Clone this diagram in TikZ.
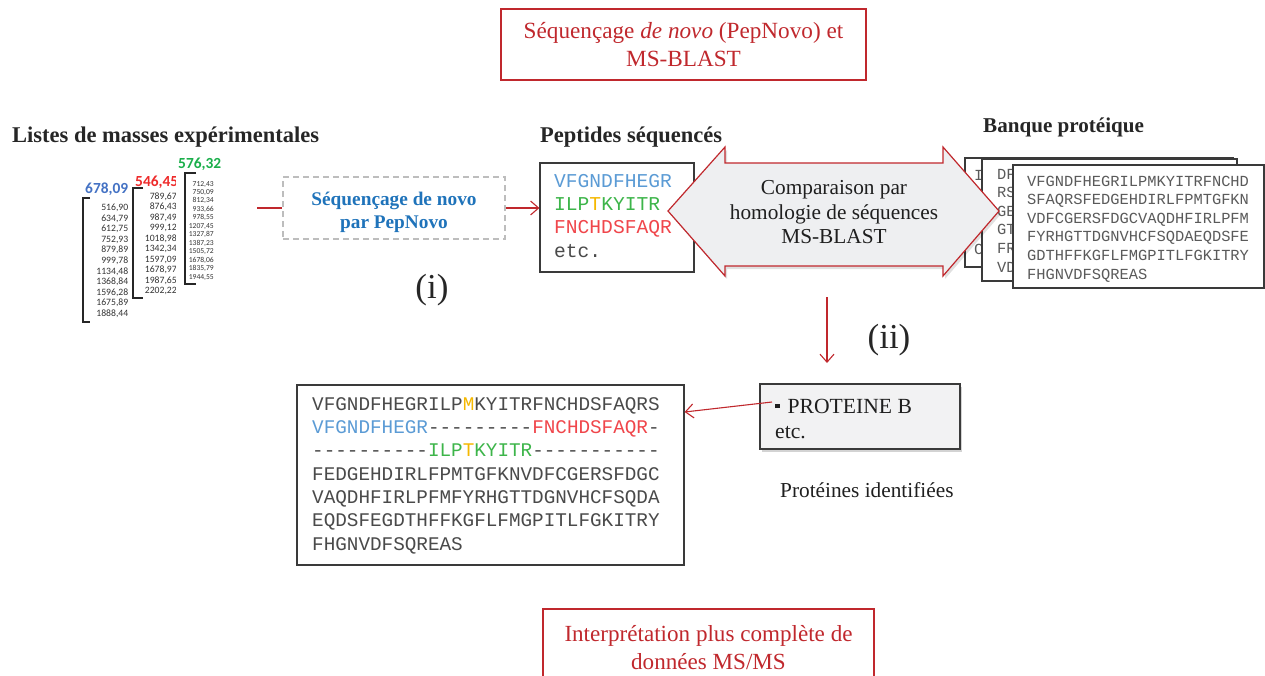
\documentclass[tikz,border=0pt]{standalone}
\usepackage{fontspec}
\setmainfont{Liberation Serif}
\newfontfamily\calfont{Carlito}
\newfontfamily\monofont{Liberation Mono}
\usetikzlibrary{arrows.meta,shadows}
\definecolor{dred}{HTML}{C0282D}
\definecolor{boxgray}{HTML}{3A3A3A}
\definecolor{seqgray}{HTML}{4A4A4A}
\definecolor{cardgray}{HTML}{5A5A5A}
\definecolor{pblue}{HTML}{5B9BD5}
\definecolor{pgreen}{HTML}{3DB54A}
\definecolor{pyel}{HTML}{F5B800}
\definecolor{pred}{HTML}{F0464B}
\definecolor{hblue}{HTML}{4472C4}
\definecolor{hred}{HTML}{EE2B2B}
\definecolor{hgreen}{HTML}{1BAF4B}
\definecolor{dblue}{HTML}{1F73BA}
\definecolor{arrowfill}{HTML}{EEEFF1}
\definecolor{protfill}{HTML}{F2F2F3}
\definecolor{dashgray}{HTML}{BDBDBD}
\begin{document}
\begin{tikzpicture}[x=1pt,y=-1pt,
  redbox/.style={draw=dred, line width=1.1pt, inner sep=0pt, text=dred, align=center},
  redline/.style={draw=dred, line width=1.1pt},
  redarrow/.style={redline, -{Straight Barb[length=8pt,width=14pt,line width=1.1pt]}},
  blackbox/.style={draw=boxgray, line width=1.2pt, fill=white, inner sep=0pt},
  header/.style={font=\fontsize{22.5}{27}\selectfont\bfseries, text=black!85, inner sep=0pt, anchor=base west},
  masslist/.style={font=\calfont\fontsize{9.7}{10.6}\selectfont, text=black!80, align=right, inner sep=0pt, anchor=base east},
  massbig/.style={font=\calfont\bfseries\fontsize{15.4}{18}\selectfont, inner sep=0pt, anchor=base west},
  bracket/.style={draw=black!85, line width=1.3pt},
  seqtext/.style={font=\monofont\fontsize{19.3}{23.3}\selectfont, text=seqgray, align=left, inner sep=0pt, anchor=base west},
  cardtext/.style={font=\monofont\fontsize{15.4}{18.6}\selectfont, text=cardgray, align=left, inner sep=0pt, anchor=base west},
  roman/.style={font=\fontsize{35}{40}\selectfont, text=black!85, inner sep=0pt}
]
\useasboundingbox (0,0) rectangle (1265,675);

% top and bottom boxes
\node[redbox, minimum width=365pt, minimum height=71pt, font=\fontsize{23.2}{28}\selectfont] (topbox) at (683.5,44.5)
  {Séquençage \textit{de novo} (PepNovo) et\\MS-BLAST};
\node[redbox, minimum width=331pt, minimum height=77pt, font=\fontsize{23.1}{28}\selectfont] (botbox) at (708.5,647.5)
  {Interprétation plus complète de\\données MS/MS};

% headers
\node[header] (hlist) at (12,142) {Listes de masses expérimentales};
\node[header] (hpep) at (540,142) {Peptides séquencés};
\node[header, font=\fontsize{21.1}{25}\selectfont\bfseries] (hbank) at (983,132) {Banque protéique};

% mass lists (base anchor = last line baseline)
\node[massbig, text=hblue] (m1) at (85,193) {678,09};
\node[masslist] (l1) at (128.5,316.5) {516,90\\634,79\\612,75\\752,93\\879,89\\999,78\\1134,48\\1368,84\\1596,28\\1675,89\\1888,44};
\draw[bracket] (90,198) -- (83,198) -- (83,322) -- (90,322);
\begin{scope}
  \clip (125,160) rectangle (175.5,305);
  \node[massbig, text=hred] (m2) at (135,186) {546,45};
  \node[masslist, font=\calfont\fontsize{9.7}{10.45}\selectfont] (l2) at (177,293.5) {789,67\\876,43\\987,49\\999,12\\1018,98\\1342,34\\1597,09\\1678,97\\1987,65\\2202,22};
\end{scope}
\draw[bracket] (143,188) -- (133,188) -- (133,298) -- (143,298);
\node[massbig, text=hgreen] (m3) at (178,168) {576,32};
\node[masslist, font=\calfont\fontsize{7.6}{8.45}\selectfont] (l3) at (214,279) {712,43\\750,09\\812,34\\933,66\\978,55\\1207,45\\1327,87\\1387,23\\1505,72\\1678,06\\1835,79\\1944,55};
\draw[bracket] (196,173) -- (185,173) -- (185,284) -- (196,284);

% dashed box
\node[draw=dashgray, line width=1.5pt, dash pattern=on 6pt off 4pt, minimum width=222pt, minimum height=62pt, inner sep=0pt] (dbox) at (394,208) {};
\node[font=\fontsize{19.3}{23}\selectfont\bfseries, text=dblue, align=center, inner sep=0pt] (dtext) at (394,212) {Séquençage de novo\\par PepNovo};
\coordinate (lstart) at (257,208);
\draw[redline] (lstart) -- (dbox.west);
\node[blackbox, minimum width=154pt, minimum height=109pt] (pep) at (617,217.5) {};
\draw[redarrow] (dbox.east) -- (dbox.east -| pep.west);
\node[seqtext, font=\monofont\fontsize{19.6}{23.3}\selectfont] (peptxt) at (554,257)
  {\textcolor{pblue}{VFGNDFHEGR}\\\textcolor{pgreen}{ILP}\textcolor{pyel}{T}\textcolor{pgreen}{KYITR}\\\textcolor{pred}{FNCHDSFAQR}\\etc.};

\node[roman] (ri) at (432,290) {(i)};

% protein bank cards (back ones)
\node[blackbox, minimum width=268pt, minimum height=109pt] (card1) at (1099,212.5) {};
\node[cardtext] (c1txt) at (974,273) {I\\\\\\\\C\\};
\node[blackbox, minimum width=255pt, minimum height=122pt] (card2) at (1109.5,220) {};
\node[cardtext] (c2txt) at (997,272) {DF\\RS\\GE\\GT\\FR\\VD};

% double arrow
\fill[black, opacity=0.12] (670,214) -- (727,150) -- (727,166) -- (945,166) -- (945,150) -- (1001,214) -- (945,279) -- (945,269) -- (727,269) -- (727,279) -- cycle;
\draw[draw=dred, line width=1.2pt, fill=arrowfill, line join=miter] (668,211) -- (725,147) -- (725,163) -- (943,163) -- (943,147) -- (999,211) -- (943,276) -- (943,266) -- (725,266) -- (725,276) -- cycle;
\node[font=\fontsize{21.3}{24.5}\selectfont, text=black!88, align=center, inner sep=0pt] (cmp) at (834,212.5) {Comparaison par\\homologie de séquences\\MS-BLAST};

% front card
\node[blackbox, minimum width=251pt, minimum height=123pt] (card3) at (1138.5,226.5) {};
\node[cardtext] (c3txt) at (1027,279) {VFGNDFHEGRILPMKYITRFNCHD\\SFAQRSFEDGEHDIRLFPMTGFKN\\VDFCGERSFDGCVAQDHFIRLPFM\\FYRHGTTDGNVHCFSQDAEQDSFE\\GDTHFFKGFLFMGPITLFGKITRY\\FHGNVDFSQREAS};

% down arrow and (ii)
\coordinate (dstart) at (827,297);
\coordinate (dend) at (827,363);
\draw[redarrow] (dstart) -- (dend);
\node[roman] (rii) at (889,340) {(ii)};

% protein box
\node[draw=boxgray, line width=1.2pt, fill=protfill, minimum width=200pt, minimum height=65pt, inner sep=0pt,
  drop shadow={shadow xshift=1.5pt, shadow yshift=-2.5pt, opacity=0.35}] (prot) at (860,416.5) {};
\node[font=\fontsize{21.6}{25}\selectfont, text=black!88, align=left, inner sep=0pt, anchor=base west] (prottxt) at (775,438)
  {\rule[5pt]{4.5pt}{4.5pt}\hspace{8pt}PROTEINE B\\etc.};
\node[font=\fontsize{21.3}{25}\selectfont, text=black!88, inner sep=0pt, anchor=base west] (protlab) at (780,497) {Protéines identifiées};

% alignment box
\node[blackbox, minimum width=387pt, minimum height=180pt] (align) at (490.5,475) {};
\node[seqtext] (aligntxt) at (312,550)
  {VFGNDFHEGRILP\textcolor{pyel}{M}KYITRFNCHDSFAQRS\\
   \textcolor{pblue}{VFGNDFHEGR}---------\textcolor{pred}{FNCHDSFAQR}-\\
   ----------\textcolor{pgreen}{ILP}\textcolor{pyel}{T}\textcolor{pgreen}{KYITR}-----------\\
   FEDGEHDIRLFPMTGFKNVDFCGERSFDGC\\
   VAQDHFIRLPFMFYRHGTTDGNVHCFSQDA\\
   EQDSFEGDTHFFKGFLFMGPITLFGKITRY\\
   FHGNVDFSQREAS};
\coordinate (bul) at (772,402);
\draw[redarrow] (bul) -- ([yshift=63pt]align.east);
\end{tikzpicture}
\end{document}
